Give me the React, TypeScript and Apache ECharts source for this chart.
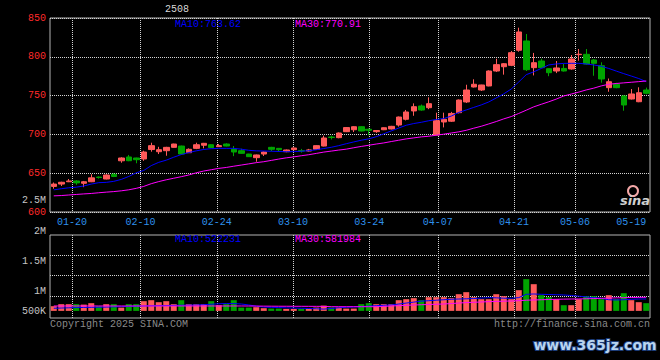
import React, { useEffect, useRef } from "react";
import * as echarts from "echarts";

const DATES = [
  "01-14","01-15","01-16","01-17","01-20","01-21","01-22","01-23","01-24","01-27",
  "02-05","02-06","02-07","02-10","02-11","02-12","02-13","02-14","02-17","02-18",
  "02-19","02-20","02-21","02-24","02-25","02-26","02-27","02-28","03-03","03-04",
  "03-05","03-06","03-07","03-10","03-11","03-12","03-13","03-14","03-17","03-18",
  "03-19","03-20","03-21","03-24","03-25","03-26","03-27","03-28","03-31","04-01",
  "04-02","04-03","04-07","04-08","04-09","04-10","04-11","04-14","04-15","04-16",
  "04-17","04-18","04-21","04-22","04-23","04-24","04-25","04-28","04-29","04-30",
  "05-06","05-07","05-08","05-09","05-12","05-13","05-14","05-15","05-16","05-19",
];

const OPEN = [
  633,636,639,640,637,639,645,642.5,648.6,666,
  670.9,669.6,668.3,680.5,677.7,679,683.3,685,676.4,682,
  686,686.7,684.2,687.6,680.8,679,674.7,670,674.7,683.3,
  682,677.7,680.3,679,678.6,680.8,685,696.6,695.8,703.5,
  706,709.9,706.6,703.5,706,707,712.1,719.5,730.2,736.6,
  734.4,699.2,716,717,728,741.8,761.1,757.2,762.4,781.7,
  787.2,789,808.4,820.4,786,794.6,784.7,781.7,785,784.3,
  802.8,803.2,795.9,788.5,760.2,764.6,749.5,745.6,742.1,757.2,
];
const CLOSE = [
  636,638.3,640,637.5,639,644,644.5,647.7,645.8,669.6,
  666.1,667.4,677.3,685.5,680.3,683.3,687.6,674.7,680.8,686.7,
  688.5,682.9,685.5,685,677.3,675.6,671.3,673.5,677.3,680.8,
  680.3,679.9,682.5,678.6,680,685.5,695.4,696,701.8,708.8,
  709.9,704.4,705.3,705,708.6,710.4,722.4,728.9,735.7,731.4,
  739.6,717.7,719.5,727,744.3,757.2,764.6,763.7,781.7,789.9,
  791.1,805.3,832,783.4,792.4,786,779.5,785.6,781.7,797.2,
  803.3,790.7,791.6,771.4,767.9,760.2,737.9,752.1,753.7,753,
];
const LOW = [
  630,633.5,638.5,635,632,638.5,643,642,645,663.5,
  665.5,662.8,666,677.7,674.7,672.5,683,674,676,681,
  682,682.5,684,684.5,672,675,670.9,664.8,672.2,678.6,
  677.7,677,680,676.5,678,680.5,684.5,693.5,695,703,
  703,704,699,702,705.5,706.5,710,718,724,730.5,
  732.5,699,709,716,727,740.5,760.5,756,762,780.5,
  777,788,806.5,781.7,776,785.5,775,779,781,783.5,
  795,790,775.6,766.6,755,759.5,730.5,745,741.5,751.5,
];
const HIGH = [
  638,639,642.5,641,640,648.6,645.8,648.5,650,670.5,
  673.5,670,679,689.3,684,684,688,685.5,682,689.3,
  689,687.5,687.6,688.5,685,681.5,675,674,678,684,
  682.5,680.5,683,681.3,681.3,686,698.4,698.4,702.5,709.5,
  710.5,710.5,707.5,705.5,709,711,723,731.5,740,738.5,
  747.8,728,728,729,745,764,771,764,782.5,797.5,
  792,807.5,837.5,829.4,805,797.5,785,794.6,790.7,802.3,
  810,810,797,792.9,772,766.5,750.5,758.5,760.7,760.3,
];

const MA10 = [
  628.5,630,631.2,632,633.5,636,637.8,638.2,639.5,642,
  645.8,650.5,653.5,659.8,664,666.8,670.6,674,676.6,678.8,
  680.6,681.6,682,682,682,681,679.5,678.8,678.6,678.3,
  678,677.7,677.8,678.3,679,680.2,681.8,683.4,685.5,688,
  690.3,692.5,694.3,697,700.8,704.5,708.2,711.8,714,715.6,
  717.6,719.2,720.5,723.6,728.3,731.5,734.8,738,741.8,747,
  752.3,758.5,767.6,777,780.6,785,789.5,790.8,791.5,791.6,
  791.6,790.8,789.5,787.8,785,781.6,778.3,775.2,772,768,
];
const MA30 = [
  620.8,621.2,621.9,622.6,623.3,623.9,624.8,625.6,626.3,627.3,
  628.6,630.5,633,636.5,639.2,641.5,643.5,645.5,647.7,650.5,
  652.8,654.5,656.2,657.4,659,660.5,662,663.6,664.8,666.5,
  668.2,669.8,671,672.5,673.8,675.5,677.2,678.5,679.8,681,
  682.8,684.5,686,687.6,689,690.8,692.5,694.2,695.5,696.8,
  697.6,699,700.3,701.8,703.3,705.3,708,710.5,713.5,716.6,
  720,723,727,731.2,735.5,738.8,742,745.5,749.5,752,
  754.5,757.3,759.6,762.5,764.6,765.6,766.4,767.2,768,768.8,
];

const VOLUME = [
  198000,283000,283000,283000,266000,325000,198000,283000,283000,139000,
  283000,283000,409000,451000,367000,409000,283000,451000,283000,283000,
  283000,409000,240000,283000,451000,139000,139000,156000,114000,97000,
  97000,84000,84000,84000,84000,139000,223000,139000,139000,97000,
  97000,283000,325000,283000,283000,283000,451000,493000,536000,451000,
  578000,578000,578000,536000,704000,789000,578000,493000,493000,704000,
  620000,493000,873000,1337000,1126000,662000,578000,493000,240000,240000,
  493000,620000,620000,493000,662000,493000,746000,451000,367000,325000,
];
const VOL_MA10 = [
  110000,120000,130000,140000,145000,150000,155000,160000,170000,180000,
  190000,200000,207000,215000,220000,225000,232000,238000,244000,249000,
  260000,280000,300000,310000,310000,290000,250000,200000,160000,150000,
  140000,130000,120000,110000,100000,90000,75000,100000,130000,152000,
  165000,180000,200000,220000,235000,249000,290000,330000,370000,410000,
  430000,450000,470000,490000,500000,510000,520000,540000,557000,550000,
  535000,531000,560000,700000,713000,700000,690000,680000,671000,650000,
  620000,590000,557000,530000,470000,460000,470000,490000,500000,502000,
];
const VOL_MA30 = [
  207000,207000,207000,207000,207000,207000,207000,207000,207000,207000,
  207000,207000,207000,207000,207000,207000,207000,207000,207000,207000,
  207000,207000,207000,207000,207000,207000,205000,203000,200000,198000,
  196000,195000,194000,193000,192000,191000,190000,177000,177000,177000,
  177000,177000,177000,177000,190000,207000,220000,235000,249000,260000,
  270000,280000,291000,310000,330000,350000,363000,375000,390000,400000,
  410000,417000,430000,450000,460000,470000,480000,489000,495000,500000,
  505000,510000,520000,530000,540000,550000,557000,565000,570000,573000,
];

const PRICE_MIN = 600;
const PRICE_MAX = 850;
const PRICE_STEP = 50;
const GRID_DATE_IDX = [4, 13, 23, 33, 43, 52, 62, 70];
const GRID_DAY_MIN = 1.113;
const GRID_DAY_MAX = 79.84;
const VOL_MIN = -300000;
const VOL_MAX = 3200000;
const VOL_GRID_VALUES = [630000, 1490000, 2345000];
const VOL_LABELS = ["2.5M", "2M", "1.5M", "1M", "500K"];
const VOL_LABEL_Y = [200, 231, 261, 291, 311];
const TITLE = "2508";
const PRICE_LEGEND = ["MA10:763.62", "MA30:770.91"];
const VOL_LEGEND = ["MA10:522231", "MA30:581984"];

const RED = "#ff5a5a";
const GREEN = "#00a400";
const BLUE = "#0000ff";
const MAGENTA = "#ff00ff";
const DATE_BLUE = "#2e90ec";
const GRIDLINE = "#d4d4d4";
const MONO = "'Liberation Mono', 'DejaVu Sans Mono', monospace";

function txt(text: string, x: number, y: number, fill: string, align = "left", font = `10px ${MONO}`, extra: any = {}) {
  return {
    type: "text",
    x,
    y,
    silent: true,
    z: 100,
    style: { text, fill, font, textAlign: align, textVerticalAlign: "middle", ...extra },
  };
}

export default function App() {
  const ref = useRef<HTMLDivElement>(null);
  useEffect(() => {
    if (!ref.current) return;
    const chart = echarts.init(ref.current, null, { renderer: "svg" });
    const dotted = { color: GRIDLINE, type: [1, 1], width: 1 };
    const candles = OPEN.map((o, i) => [o, CLOSE[i], LOW[i], HIGH[i]]);
    const vols = VOLUME.map((v, i) => ({
      value: v,
      itemStyle: { color: CLOSE[i] >= OPEN[i] ? RED : GREEN },
    }));
    const option: any = {
      animation: false,
      backgroundColor: "#000",
      grid: [
        { left: 50, top: 18, width: 600, height: 194, show: true, borderColor: "#b4b4b4", borderWidth: 1, backgroundColor: "transparent" },
        { left: 50, top: 235, width: 600, height: 83, show: true, borderColor: "#b4b4b4", borderWidth: 1, backgroundColor: "transparent" },
      ],
      xAxis: [
        {
          type: "category", gridIndex: 0, data: DATES, boundaryGap: true, position: "bottom",
          axisLine: { show: false }, axisTick: { show: false }, splitLine: { show: false },
          axisLabel: {
            interval: (i: number) => i === DATES.length - 1,
            align: "right", color: DATE_BLUE, fontFamily: MONO, fontSize: 10, margin: 5,
          },
        },
        {
          type: "value", gridIndex: 0, min: GRID_DAY_MIN, max: GRID_DAY_MAX, position: "bottom",
          axisLine: { show: false },
          axisTick: { show: false, customValues: GRID_DATE_IDX },
          splitLine: { show: true, lineStyle: dotted },
          axisLabel: {
            customValues: GRID_DATE_IDX,
            formatter: (v: number) => DATES[Math.round(v)],
            color: DATE_BLUE, fontFamily: MONO, fontSize: 10, margin: 5,
          },
        },
        {
          type: "category", gridIndex: 1, data: DATES, boundaryGap: true, position: "bottom",
          axisLine: { show: false }, axisTick: { show: false }, splitLine: { show: false }, axisLabel: { show: false },
        },
        {
          type: "value", gridIndex: 1, min: GRID_DAY_MIN, max: GRID_DAY_MAX, position: "bottom",
          axisLine: { show: false },
          axisTick: { show: false, customValues: GRID_DATE_IDX },
          splitLine: { show: true, lineStyle: dotted },
          axisLabel: { show: false },
        },
      ],
      yAxis: [
        {
          type: "value", gridIndex: 0, min: PRICE_MIN, max: PRICE_MAX, interval: PRICE_STEP,
          axisLine: { show: false }, axisTick: { show: false },
          splitLine: { show: true, lineStyle: dotted },
          axisLabel: { color: "#ff2a2a", fontFamily: MONO, fontSize: 10, margin: 4 },
        },
        {
          type: "value", gridIndex: 1, min: VOL_MIN, max: VOL_MAX,
          axisLine: { show: false },
          axisTick: { show: false, customValues: VOL_GRID_VALUES },
          splitLine: { show: true, lineStyle: dotted },
          axisLabel: { show: false },
        },
      ],
      series: [
        {
          type: "candlestick", xAxisIndex: 0, yAxisIndex: 0, data: candles, barWidth: 6,
          itemStyle: { color: RED, color0: GREEN, borderColor: RED, borderColor0: GREEN, borderWidth: 1 },
        },
        { type: "line", xAxisIndex: 0, yAxisIndex: 0, data: MA10, showSymbol: false, lineStyle: { color: BLUE, width: 1 }, z: 3 },
        { type: "line", xAxisIndex: 0, yAxisIndex: 0, data: MA30, showSymbol: false, lineStyle: { color: MAGENTA, width: 1 }, z: 3 },
        { type: "bar", xAxisIndex: 2, yAxisIndex: 1, data: vols, barWidth: 6 },
        { type: "line", xAxisIndex: 2, yAxisIndex: 1, data: VOL_MA10, showSymbol: false, lineStyle: { color: BLUE, width: 1 }, z: 3 },
        { type: "line", xAxisIndex: 2, yAxisIndex: 1, data: VOL_MA30, showSymbol: false, lineStyle: { color: MAGENTA, width: 1 }, z: 3 },
      ],
      graphic: [
        txt(TITLE, 177, 9, "#d8d8d8", "center"),
        txt(PRICE_LEGEND[0], 175, 24, BLUE),
        txt(PRICE_LEGEND[1], 295, 24, MAGENTA),
        txt(VOL_LEGEND[0], 175, 239, BLUE),
        txt(VOL_LEGEND[1], 295, 239, MAGENTA),
        ...VOL_LABELS.map((t, i) => txt(t, 46, VOL_LABEL_Y[i], "#c4c4c4", "right")),
        txt("Copyright 2025 SINA.COM", 50, 324, "#8a8a8a"),
        txt("http://finance.sina.com.cn", 650, 324, "#8a8a8a", "right"),
        { type: "circle", shape: { cx: 633, cy: 191, r: 5 }, style: { fill: "none", stroke: "#f4a8a8", lineWidth: 2 }, z: 100, silent: true },
        txt("sina", 635, 200, "#cfcfcf", "center", "italic bold 13px 'DejaVu Sans'"),
        txt("www.365jz.com", 595, 345, "#b8d4f0", "center", "bold 14px 'DejaVu Sans'", { stroke: "#1c3c78", lineWidth: 2 }),
      ],
    };
    chart.setOption(option);
    return () => chart.dispose();
  }, []);
  return <div ref={ref} style={{ position: "fixed", left: 0, top: 0, width: 660, height: 360 }} />;
}
